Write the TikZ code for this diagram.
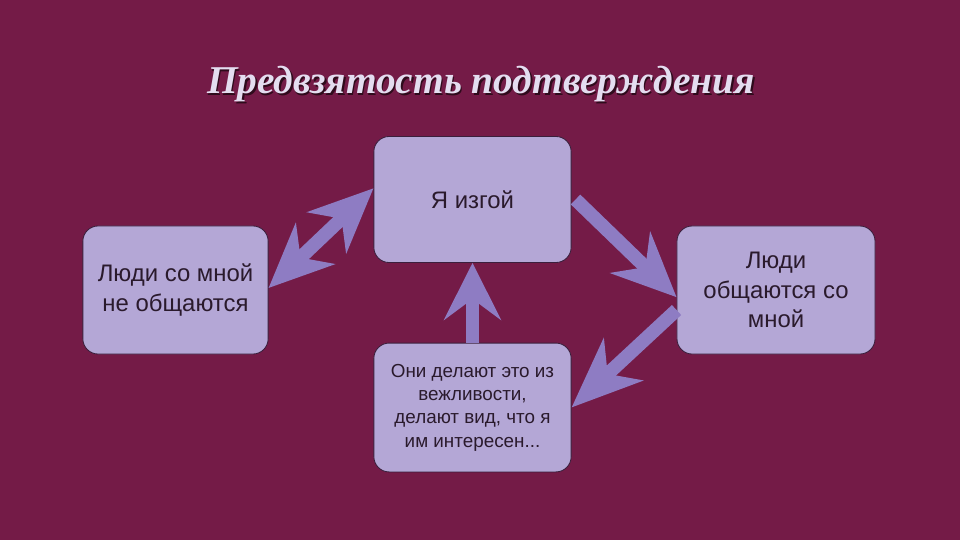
\documentclass[tikz,border=0pt]{standalone}
\usepackage{fontspec}
\setmainfont{Liberation Sans}
\newfontfamily\titlefont{Liberation Serif}
\usetikzlibrary{arrows.meta, positioning, calc}
\definecolor{slbg}{HTML}{741B47}
\definecolor{slbox}{HTML}{B4A7D6}
\definecolor{slarrow}{HTML}{8E7CC3}
\definecolor{sltext}{HTML}{2A1A2C}
\definecolor{sltitle}{HTML}{E4DDF0}
\definecolor{sledge}{HTML}{3A1F3C}

\begin{document}
\begin{tikzpicture}[x=0.025cm, y=-0.025cm,
      box/.style={draw=sledge, line width=0.6pt, fill=slbox, rounded corners=0.38cm, align=center,
                  text=sltext, font=\fontsize{17}{21}\selectfont, minimum width=4.93cm, minimum height=3.15cm},
      smallbox/.style={box, font=\fontsize{13.4}{16.6}\selectfont},
      blk/.style={slarrow, line width=0.34cm, -{Stealth[length=#1, width=1.42cm, inset=0.52cm]}},
      blk/.default=1.6cm,
      dblk/.style={slarrow, line width=0.34cm,
                   {Stealth[length=1.6cm, width=1.4cm, inset=0.5cm]}-{Stealth[length=1.6cm, width=1.4cm, inset=0.5cm]}}]
      \fill[slbg] (0,0) rectangle (960,540);
      \node[font=\titlefont\bfseries\itshape\fontsize{28}{34}\selectfont, text=black!60!slbg] at (482.5,86) {Предвзятость подтверждения};
      \node[font=\titlefont\bfseries\itshape\fontsize{28}{34}\selectfont, text=sltitle] (title) at (481,84) {Предвзятость подтверждения};

      \node[box] (top) at (472.5,199.5) {Я изгой};
      \node[box, minimum width=4.63cm, minimum height=3.2cm] (left) at (175.5,290) {Люди со мной\\не общаются};
      \node[box, minimum width=4.95cm, minimum height=3.2cm] (right) at (776,290) {Люди\\общаются со\\мной};
      \node[smallbox, minimum height=3.22cm] (bottom) at (472.5,407.5) {Они делают это из\\вежливости,\\делают вид, что я\\им интересен...};

      \draw[dblk] ([yshift=0.05cm]left.east) -- ([yshift=0.28cm]top.west);
      \draw[blk] ([xshift=0.1cm]top.east) -- ([yshift=-0.18cm]right.west);
      \draw[blk=1.75cm] ([yshift=-0.5cm]right.west) -- (bottom.east);
      \draw[blk=1.42cm] (bottom.north) -- (top.south);
    \end{tikzpicture}
\end{document}
